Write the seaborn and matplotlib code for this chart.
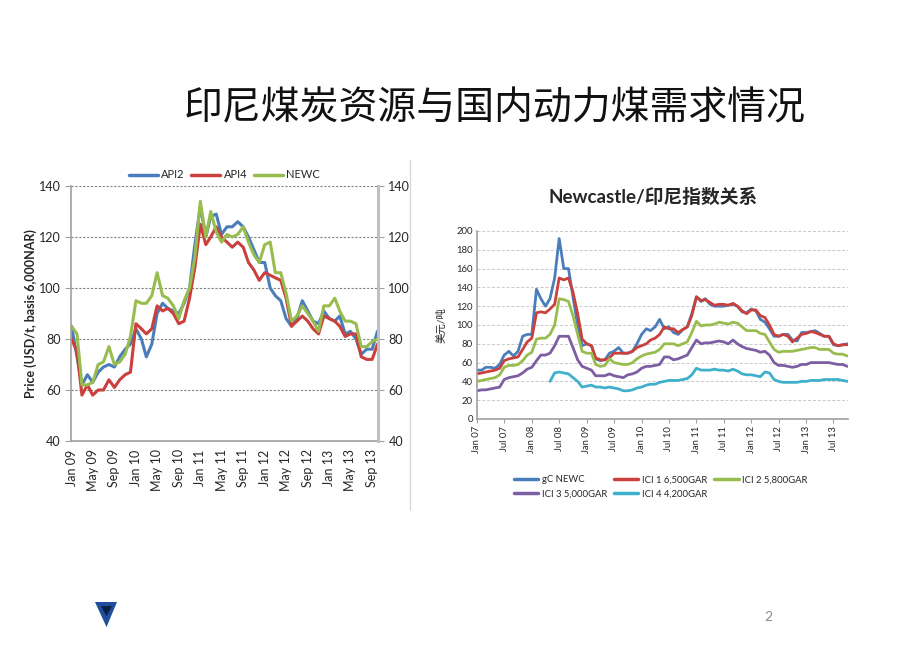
import numpy as np
import pandas as pd
import matplotlib
matplotlib.use("Agg")
import matplotlib.pyplot as plt
import matplotlib.dates as mdates
from matplotlib.lines import Line2D
from matplotlib.patches import Polygon
import seaborn as sns

sns.set_style("white")
plt.rcParams["font.family"] = ["Lato", "Noto Sans CJK SC", "DejaVu Sans"]

# ---- left chart: API2 / API4 / NEWC, monthly Jan 09 - Oct 13 ----
left_dates = pd.date_range("2009-01-01", "2013-10-01", freq="MS")
api2 = [85, 73, 62, 66, 63, 67, 69, 70, 69, 73, 76, 78,
        84, 80, 73, 78, 90, 94, 92, 91, 90, 94, 100, 117,
        132, 120, 128, 129, 121, 124, 124, 126, 124, 120, 115, 110,
        110, 100, 97, 95, 88, 85, 88, 95, 91, 87, 86, 91,
        88, 87, 89, 82, 83, 80, 74, 76, 76, 83]
api4 = [80, 75, 58, 62, 58, 60, 60, 64, 61, 64, 66, 67,
        86, 84, 82, 84, 93, 91, 92, 90, 86, 87, 96, 108,
        125, 117, 120, 124, 120, 118, 116, 118, 116, 110, 107, 103,
        106, 105, 104, 103, 96, 85, 87, 89, 87, 84, 82, 89,
        88, 87, 85, 81, 82, 82, 73, 72, 72, 78]
newc = [85, 82, 62, 62, 63, 70, 71, 77, 70, 71, 74, 81,
        95, 94, 94, 97, 106, 97, 96, 93, 88, 95, 100, 112,
        134, 120, 130, 122, 118, 121, 120, 121, 124, 118, 113, 110,
        117, 118, 106, 106, 98, 87, 89, 93, 90, 87, 83, 93,
        93, 96, 91, 87, 87, 86, 77, 77, 79, 80]
left_names = ["API2", "API4", "NEWC"]
left_colors = ["#4a7ebb", "#c9403d", "#98bd4e"]

# ---- right chart: Newcastle vs ICI indices, monthly Jan 07 - Oct 13 ----
right_dates = pd.date_range("2007-01-01", "2013-10-01", freq="MS")
gc_newc = [52, 52, 55, 55, 54, 58, 68, 72, 67, 72, 88, 90,
           90, 138, 128, 120, 128, 150, 192, 160, 160, 130, 100, 78,
           80, 78, 64, 62, 63, 70, 72, 76, 70, 70, 72, 80,
           90, 96, 94, 98, 106, 96, 98, 92, 90, 95, 98, 112,
           130, 125, 128, 122, 120, 120, 120, 121, 122, 120, 114, 113,
           117, 115, 106, 103, 96, 88, 88, 90, 90, 84, 83, 92,
           92, 93, 94, 91, 88, 88, 79, 78, 79, 80]
ici1 = [48, 49, 50, 51, 52, 54, 62, 64, 65, 66, 74, 82,
        86, 113, 114, 113, 117, 122, 150, 148, 150, 135, 112, 85,
        80, 78, 65, 63, 63, 65, 70, 70, 70, 70, 72, 76,
        78, 80, 84, 86, 90, 98, 96, 96, 92, 95, 98, 110,
        130, 126, 127, 124, 121, 122, 122, 121, 123, 120, 115, 112,
        116, 116, 110, 108, 100, 90, 88, 90, 88, 82, 86, 90,
        91, 93, 92, 90, 88, 88, 80, 78, 79, 79]
ici2 = [40, 41, 42, 43, 44, 47, 55, 57, 57, 58, 62, 68,
        71, 85, 86, 86, 90, 100, 128, 127, 125, 110, 90, 72,
        70, 70, 58, 56, 57, 64, 60, 59, 58, 58, 60, 64,
        67, 69, 70, 71, 74, 80, 80, 80, 78, 80, 82, 92,
        104, 99, 100, 100, 101, 103, 102, 101, 103, 102, 98, 94,
        94, 94, 91, 90, 82, 74, 71, 72, 72, 72, 73, 74,
        75, 76, 76, 74, 74, 74, 70, 69, 69, 67]
ici3 = [30, 31, 31, 32, 33, 34, 42, 44, 45, 46, 49, 53,
        55, 62, 68, 68, 70, 78, 88, 88, 88, 76, 63, 56,
        54, 52, 46, 46, 46, 48, 46, 45, 44, 47, 48, 50,
        54, 56, 56, 57, 58, 66, 66, 63, 64, 66, 68, 76,
        84, 80, 81, 81, 82, 83, 82, 80, 84, 80, 77, 75,
        74, 73, 71, 72, 68, 60, 57, 57, 56, 55, 56, 58,
        58, 60, 60, 60, 60, 60, 59, 58, 58, 56]
ici4 = [np.nan] * 16 + [40, 49, 50, 49, 48, 44, 40, 34,
        35, 36, 34, 34, 33, 34, 33, 32, 30, 30, 31, 33,
        34, 36, 37, 37, 39, 40, 41, 41, 41, 42, 43, 47,
        54, 52, 52, 52, 53, 52, 52, 51, 53, 51, 48, 47,
        47, 46, 45, 50, 49, 42, 40, 39, 39, 39, 39, 40,
        40, 41, 41, 41, 42, 42, 42, 42, 41, 40]
right_names = ["gC NEWC", "ICI 1 6,500GAR", "ICI 2 5,800GAR",
               "ICI 3 5,000GAR", "ICI 4 4,200GAR"]
right_colors = ["#4a7ebb", "#c9403d", "#98bd4e", "#7d5ea3", "#3fb0cb"]

left_df = pd.concat([pd.DataFrame({"date": left_dates, "value": v, "series": n})
                     for n, v in zip(left_names, [api2, api4, newc])])
right_df = pd.concat([pd.DataFrame({"date": right_dates, "value": v, "series": n})
                      for n, v in zip(right_names, [gc_newc, ici1, ici2, ici3, ici4])])
right_df = right_df.dropna()

fig = plt.figure(figsize=(9.2, 6.51), dpi=100)
W, H = 920, 651


def box(x0, y0, x1, y1):
    return [x0 / W, 1 - y1 / H, (x1 - x0) / W, (y1 - y0) / H]


# slide title
fig.text(495 / W, 1 - 108 / H, "印尼煤炭资源与国内动力煤需求情况", ha="center", va="center",
         fontsize=28, family=["Noto Sans CJK SC"], fontweight="light", color="#111111")

# ---------------- left chart ----------------
ax = fig.add_axes(box(71, 186, 378, 441))
sns.lineplot(data=left_df, x="date", y="value", hue="series", palette=left_colors,
             linewidth=2.2, ax=ax, legend=False, errorbar=None)
ax.set_ylim(40, 140)
ax.set_xlim(left_dates[0] - pd.Timedelta(days=3), left_dates[-1] + pd.Timedelta(days=3))
ax.set_yticks(range(40, 141, 20))
ax.yaxis.grid(True, color="#808080", linestyle=(0, (2, 1.5)), linewidth=0.8)
ax.xaxis.set_major_locator(mdates.MonthLocator(bymonth=[1, 5, 9]))
ax.xaxis.set_major_formatter(mdates.DateFormatter("%b %y"))
ax.tick_params(axis="x", rotation=90, labelsize=9, length=4, color="#a0a0a0", pad=2)
ax.tick_params(axis="y", labelsize=9, length=4, color="#a0a0a0", left=True)
ax.set_xlabel("")
ax.set_ylabel("Price (USD/t, basis 6,000NAR)", fontsize=9, fontweight="bold", labelpad=1)
ax.spines["top"].set_visible(False)
for s in ["left", "bottom"]:
    ax.spines[s].set_color("#a0a0a0")
    ax.spines[s].set_linewidth(1.2)
ax.spines["right"].set_color("#c0c0c0")
ax.spines["right"].set_linewidth(2)
ax2 = ax.twinx()
ax2.set_ylim(40, 140)
ax2.set_yticks(range(40, 141, 20))
ax2.tick_params(axis="y", labelsize=9, length=4, color="#a0a0a0", right=True)
for s in ["top", "left", "bottom"]:
    ax2.spines[s].set_visible(False)
ax2.spines["right"].set_color("#c0c0c0")
ax2.spines["right"].set_linewidth(2)
left_handles = [Line2D([], [], color=c, linewidth=2.5) for c in left_colors]
ax.legend(left_handles, left_names, loc="lower center", bbox_to_anchor=(0.5, 1.0),
          ncol=3, frameon=False, fontsize=8, handlelength=2.6, handletextpad=0.3,
          columnspacing=0.6, borderaxespad=0.1)

# chart frame line
fig.add_artist(Line2D([410 / W, 410 / W], [1 - 160 / H, 1 - 510 / H], color="#d9d9d9", linewidth=1))

# ---------------- right chart ----------------
bx = fig.add_axes(box(477, 231, 848, 419))
sns.lineplot(data=right_df, x="date", y="value", hue="series", palette=right_colors,
             linewidth=2, ax=bx, legend=False, errorbar=None)
bx.set_ylim(0, 200)
bx.set_xlim(right_dates[0], right_dates[-1] + pd.Timedelta(days=5))
bx.set_yticks(range(0, 201, 20))
bx.yaxis.grid(True, color="#c8c8c8", linestyle=(0, (3, 2)), linewidth=0.7)
bx.xaxis.set_major_locator(mdates.MonthLocator(bymonth=[1, 7]))
bx.xaxis.set_major_formatter(mdates.DateFormatter("%b %y"))
bx.tick_params(axis="x", rotation=90, labelsize=6.8, length=3, color="#a0a0a0", pad=2, bottom=True)
bx.tick_params(axis="y", labelsize=6.8, length=0, pad=3)
bx.set_xlabel("")
bx.set_ylabel("美元/吨", fontsize=7.5, labelpad=7)
for s in ["top", "right"]:
    bx.spines[s].set_visible(False)
for s in ["left", "bottom"]:
    bx.spines[s].set_color("#a0a0a0")
    bx.spines[s].set_linewidth(1.2)
bx.set_title("Newcastle/印尼指数关系", fontsize=13.5, fontweight="bold", pad=20, x=0.476)
right_handles = [Line2D([], [], color=c, linewidth=2.5) for c in right_colors]
order = [0, 3, 1, 4, 2]
bx.legend([right_handles[i] for i in order], [right_names[i] for i in order],
          loc="upper center", bbox_to_anchor=(0.495, -0.255), ncol=3, frameon=False,
          fontsize=6.8, handlelength=2.6, handletextpad=0.4, columnspacing=0.7,
          labelspacing=0.55)

# logo and page number
fig.add_artist(Polygon([[95 / W, 1 - 602 / H], [117 / W, 1 - 602 / H], [106.5 / W, 1 - 627 / H]],
                       closed=True, facecolor="#1f4e9c", edgecolor="none"))
fig.add_artist(Polygon([[101 / W, 1 - 606 / H], [112 / W, 1 - 606 / H], [106.5 / W, 1 - 616 / H]],
                       closed=True, facecolor="#0b1f45", edgecolor="none"))
fig.text(768 / W, 1 - 617 / H, "2", fontsize=10, color="#8c8c8c", ha="center", va="center")

fig.savefig("out.png", dpi=100)
